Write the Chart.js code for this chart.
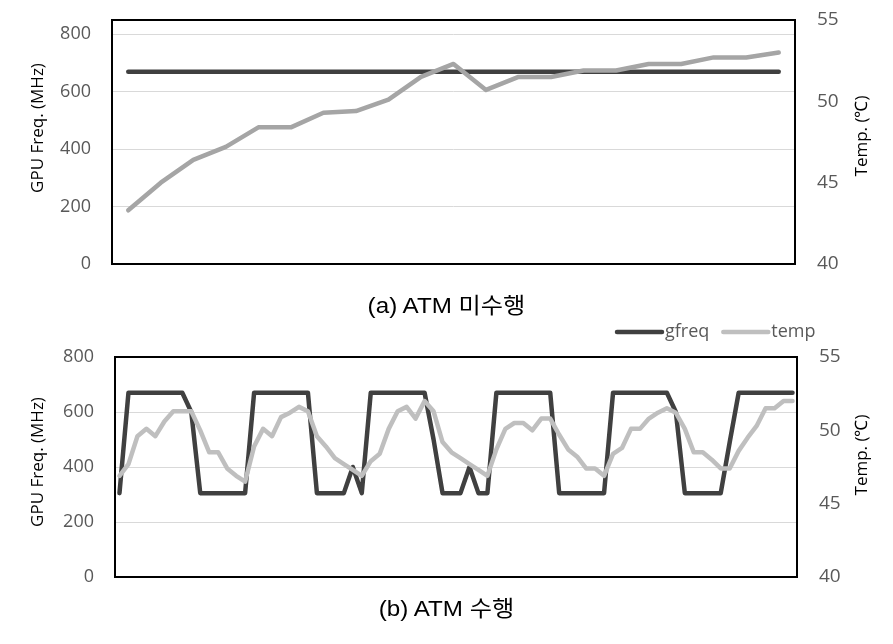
<!DOCTYPE html>
<html>
<head>
<meta charset="utf-8">
<script src="https://cdn.jsdelivr.net/npm/chart.js@4"></script>
<style>
  body { margin: 0; background: #fff; width: 893px; height: 644px; position: relative; overflow: hidden; }
  canvas { position: absolute; left: 0; }
  .cap { position: absolute; left: 0; width: 893px; text-align: center; line-height: 26px;
         font-family: "Liberation Sans", "Noto Sans CJK KR", sans-serif; font-size: 22px; color: #000;
         transform: scaleX(1.1); }
</style>
</head>
<body>
<canvas id="chartA" width="893" height="324" style="top:-20px"></canvas>
<div class="cap" style="top:293px">(a) ATM 미수행</div>
<canvas id="chartB" width="893" height="300" style="top:317px"></canvas>
<div class="cap" style="top:596px">(b) ATM 수행</div>
<script>
// (a) no ATM: 21 samples
const samplesA = [1, 2, 3, 4, 5, 6, 7, 8, 9, 10, 11, 12, 13, 14, 15, 16, 17, 18, 19, 20, 21];
const gfreqA = [670, 670, 670, 670, 670, 670, 670, 670, 670, 670, 670, 670, 670, 670, 670, 670, 670, 670, 670, 670, 670];
const tempA = [43.3, 45.0, 46.4, 47.2, 48.4, 48.4, 49.3, 49.4, 50.1, 51.5, 52.3, 50.7, 51.5, 51.5, 51.9, 51.9, 52.3, 52.3, 52.7, 52.7, 53.0];

// (b) with ATM: 76 samples
const samplesB = [1, 2, 3, 4, 5, 6, 7, 8, 9, 10, 11, 12, 13, 14, 15, 16, 17, 18, 19, 20,
  21, 22, 23, 24, 25, 26, 27, 28, 29, 30, 31, 32, 33, 34, 35, 36, 37, 38, 39, 40,
  41, 42, 43, 44, 45, 46, 47, 48, 49, 50, 51, 52, 53, 54, 55, 56, 57, 58, 59, 60,
  61, 62, 63, 64, 65, 66, 67, 68, 69, 70, 71, 72, 73, 74, 75, 76];
const gfreqB = [305, 670, 670, 670, 670, 670, 670, 670, 600, 305,
  305, 305, 305, 305, 305, 670, 670, 670, 670, 670,
  670, 670, 305, 305, 305, 305, 400, 305, 670, 670,
  670, 670, 670, 670, 670, 500, 305, 305, 305, 400,
  305, 305, 670, 670, 670, 670, 670, 670, 670, 305,
  305, 305, 305, 305, 305, 670, 670, 670, 670, 670,
  670, 670, 600, 305, 305, 305, 305, 305, 490, 670,
  670, 670, 670, 670, 670, 670];
const tempB = [46.9, 47.7, 49.6, 50.1, 49.6, 50.6, 51.3, 51.3, 51.3, 50.0,
  48.5, 48.5, 47.4, 46.9, 46.5, 48.9, 50.1, 49.6, 50.9, 51.2,
  51.6, 51.3, 49.6, 48.9, 48.1, 47.7, 47.3, 46.9, 47.9, 48.4,
  50.1, 51.3, 51.6, 50.8, 52.0, 51.3, 49.2, 48.5, 48.1, 47.7,
  47.3, 46.9, 48.7, 50.1, 50.5, 50.5, 50.0, 50.8, 50.8, 49.7,
  48.7, 48.2, 47.4, 47.4, 46.9, 48.4, 48.8, 50.1, 50.1, 50.8,
  51.2, 51.5, 51.2, 50.1, 48.5, 48.5, 48.0, 47.4, 47.4, 48.6,
  49.5, 50.3, 51.5, 51.5, 52.0, 52.0];

const freqTitle = "GPU Freq. (MHz)";
const tempTitle = "Temp. (℃)";

// black box round the plot area
const frame = {
  id: "frame",
  afterDatasetsDraw(chart) {
    const { ctx, chartArea: a } = chart;
    ctx.save();
    ctx.strokeStyle = "#000";
    ctx.lineWidth = 2;
    ctx.strokeRect(a.left, a.top, a.right - a.left, a.bottom - a.top);
    ctx.restore();
  }
};

// rotated axis titles
const axisTitles = {
  id: "axisTitles",
  afterDraw(chart, args, o) {
    const ctx = chart.ctx;
    ctx.save();
    ctx.fillStyle = "#000";
    ctx.font = "17px 'Open Sans'";
    ctx.textAlign = "center";
    ctx.textBaseline = "middle";
    [[freqTitle, o.lx, o.ly], [tempTitle, o.rx, o.ry]].forEach(([t, x, y]) => {
      ctx.save();
      ctx.translate(x, y);
      ctx.rotate(-Math.PI / 2);
      ctx.fillText(t, 0, 0);
      ctx.restore();
    });
    ctx.restore();
  }
};

// legend drawn as line samples, top right
const lineLegend = {
  id: "lineLegend",
  afterDraw(chart, args, o) {
    if (!o.show) return;
    const ctx = chart.ctx;
    let x = o.x;
    ctx.save();
    ctx.font = "18px 'Open Sans'";
    ctx.textBaseline = "middle";
    chart.data.datasets.forEach(ds => {
      ctx.strokeStyle = ds.borderColor;
      ctx.lineWidth = 4.5;
      ctx.lineCap = "round";
      ctx.beginPath();
      ctx.moveTo(x, o.y);
      ctx.lineTo(x + 45, o.y);
      ctx.stroke();
      x += 48;
      ctx.fillStyle = "#595959";
      ctx.fillText(ds.label, x, o.y);
      x += ctx.measureText(ds.label).width + 14;
    });
    ctx.restore();
  }
};

// cfg positions are page coordinates; canvas sits at cfg.canvasTop
function makeChart(id, labels, freq, temp, cfg) {
  const off = cfg.canvasTop;
  return new Chart(document.getElementById(id), {
    type: "line",
    data: {
      labels: labels,
      datasets: [
        { label: "gfreq", data: freq, yAxisID: "yL", borderColor: "#404040", order: 1 },
        { label: "temp", data: temp, yAxisID: "yR", borderColor: cfg.tempColor, order: 0 }
      ]
    },
    options: {
      responsive: false,
      animation: false,
      layout: { padding: { top: cfg.top - off, bottom: cfg.height + off - cfg.bottom, left: 0, right: 0 } },
      elements: {
        line: { borderWidth: 4.5, tension: 0, borderCapStyle: "round", borderJoinStyle: "round" },
        point: { radius: 0 }
      },
      scales: {
        x: { type: "category", display: false, offset: true },
        yL: {
          position: "left", min: 0, max: cfg.leftMax,
          ticks: { stepSize: 200, includeBounds: false, padding: 21, color: "#595959", font: { family: "Open Sans", size: 18 } },
          grid: { color: "#d9d9d9", lineWidth: 1, drawTicks: false },
          border: { display: false },
          afterFit(s) { s.width = cfg.left; }
        },
        yR: {
          position: "right", min: 40, max: 55,
          ticks: { stepSize: 5, padding: 22, color: "#595959", font: { family: "Open Sans", size: 19 } },
          grid: { display: false, drawTicks: false },
          border: { display: false },
          afterFit(s) { s.width = 893 - cfg.right; }
        }
      },
      plugins: {
        legend: { display: false },
        tooltip: { enabled: false },
        axisTitles: { lx: 38, ly: cfg.titleLY - off, rx: 862, ry: cfg.titleRY - off },
        lineLegend: { show: cfg.legend, x: 617, y: 332 - off }
      }
    },
    plugins: [frame, axisTitles, lineLegend]
  });
}

makeChart("chartA", samplesA, gfreqA, tempA, {
  canvasTop: -20, height: 324, top: 20, bottom: 264, left: 112, right: 795,
  tempColor: "#a5a5a5", leftMax: 850, titleLY: 128, titleRY: 136, legend: false
});

makeChart("chartB", samplesB, gfreqB, tempB, {
  canvasTop: 317, height: 300, top: 357, bottom: 577, left: 115, right: 797,
  tempColor: "#bfbfbf", leftMax: 800, titleLY: 462, titleRY: 455, legend: true
});
</script>
</body>
</html>
